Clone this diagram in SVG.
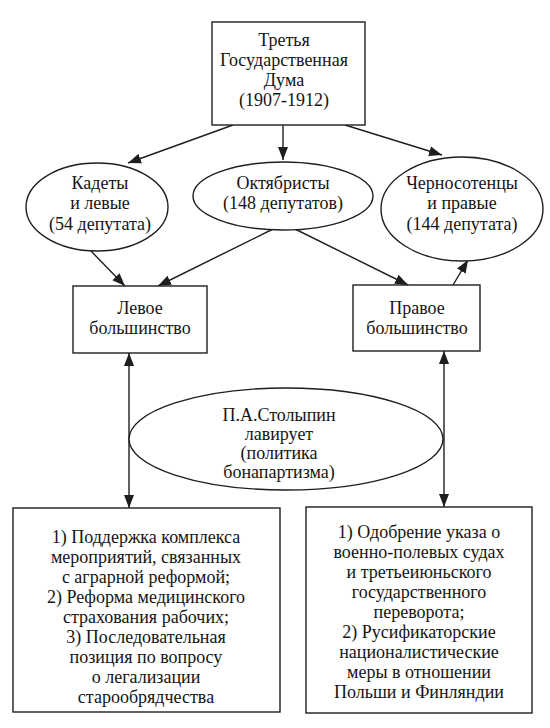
<svg xmlns="http://www.w3.org/2000/svg" width="550" height="728" viewBox="0 0 550 728">
<style>
  .box { fill: #fff; stroke: #1e1e1e; stroke-width: 1.4; }
  .ell { fill: #fff; stroke: #1e1e1e; stroke-width: 1.4; }
  .t { font-family: "Liberation Serif", "Times New Roman", serif; font-size: 18px; fill: #151515; text-anchor: middle; }
  .c { stroke: #1e1e1e; stroke-width: 1.4; fill: none; }
</style>
<defs>
  <marker id="ah" markerUnits="userSpaceOnUse" markerWidth="14" markerHeight="12" viewBox="0 0 14 12" refX="13" refY="6" orient="auto-start-reverse">
    <path d="M0,1 L13,6 L0,11 Z" fill="#1e1e1e"/>
  </marker>
</defs>
<rect width="550" height="728" fill="#fff"/>

<g id="connectors">
  <line class="c" x1="233" y1="125" x2="128" y2="163" marker-end="url(#ah)"/>
  <line class="c" x1="283" y1="125" x2="283" y2="160" marker-end="url(#ah)"/>
  <line class="c" x1="345" y1="125" x2="442" y2="155" marker-end="url(#ah)"/>
  <line class="c" x1="90" y1="250" x2="125" y2="286" marker-end="url(#ah)"/>
  <line class="c" x1="273" y1="229" x2="158" y2="286" marker-end="url(#ah)"/>
  <line class="c" x1="295" y1="229" x2="408" y2="285" marker-end="url(#ah)"/>
  <line class="c" x1="453" y1="285" x2="468" y2="260" marker-end="url(#ah)"/>
  <line class="c" x1="129" y1="353" x2="129" y2="508" marker-start="url(#ah)" marker-end="url(#ah)"/>
  <line class="c" x1="444" y1="351" x2="444" y2="507" marker-start="url(#ah)" marker-end="url(#ah)"/>
</g>

<g id="duma">
  <rect class="box" x="212" y="22" width="153" height="103"/>
  <text class="t" x="284" y="46">Третья</text>
  <text class="t" x="284" y="66">Государственная</text>
  <text class="t" x="284" y="86">Дума</text>
  <text class="t" x="284" y="106">(1907-1912)</text>
</g>

<g id="kadety">
  <ellipse class="ell" cx="97" cy="207" rx="71" ry="44"/>
  <text class="t" x="100" y="189">Кадеты</text>
  <text class="t" x="100" y="209">и левые</text>
  <text class="t" x="100" y="230">(54 депутата)</text>
</g>

<g id="oktyabristy">
  <ellipse class="ell" cx="283" cy="196" rx="90" ry="34"/>
  <text class="t" x="283" y="189">Октябристы</text>
  <text class="t" x="283" y="209">(148 депутатов)</text>
</g>

<g id="chernosotentsy">
  <ellipse class="ell" cx="462" cy="209" rx="81" ry="52"/>
  <text class="t" x="462" y="189">Черносотенцы</text>
  <text class="t" x="462" y="209">и правые</text>
  <text class="t" x="462" y="230">(144 депутата)</text>
</g>

<g id="levoe">
  <rect class="box" x="73" y="286" width="134" height="67"/>
  <text class="t" x="140" y="314">Левое</text>
  <text class="t" x="140" y="334">большинство</text>
</g>

<g id="pravoe">
  <rect class="box" x="353" y="285" width="127" height="66"/>
  <text class="t" x="417" y="314">Правое</text>
  <text class="t" x="417" y="334">большинство</text>
</g>

<g id="stolypin">
  <ellipse class="ell" cx="286" cy="439" rx="157" ry="51"/>
  <text class="t" x="279" y="421">П.А.Столыпин</text>
  <text class="t" x="279" y="440">лавирует</text>
  <text class="t" x="279" y="459">(политика</text>
  <text class="t" x="279" y="478">бонапартизма)</text>
</g>

<g id="left-measures">
  <rect class="box" x="13" y="508" width="267" height="204"/>
  <text class="t" x="146" y="543">1) Поддержка комплекса</text>
  <text class="t" x="146" y="563">мероприятий, связанных</text>
  <text class="t" x="146" y="583">с аграрной реформой;</text>
  <text class="t" x="146" y="603">2) Реформа медицинского</text>
  <text class="t" x="146" y="623">страхования рабочих;</text>
  <text class="t" x="146" y="643">3) Последовательная</text>
  <text class="t" x="146" y="663">позиция по вопросу</text>
  <text class="t" x="146" y="683">о легализации</text>
  <text class="t" x="146" y="703">старообрядчества</text>
</g>

<g id="right-measures">
  <rect class="box" x="306" y="507" width="226" height="206"/>
  <text class="t" x="419" y="538">1) Одобрение указа о</text>
  <text class="t" x="419" y="558">военно-полевых судах</text>
  <text class="t" x="419" y="578">и третьеиюньского</text>
  <text class="t" x="419" y="598">государственного</text>
  <text class="t" x="419" y="618">переворота;</text>
  <text class="t" x="419" y="638">2) Русификаторские</text>
  <text class="t" x="419" y="658">националистические</text>
  <text class="t" x="419" y="678">меры в отношении</text>
  <text class="t" x="419" y="698">Польши и Финляндии</text>
</g>
</svg>
